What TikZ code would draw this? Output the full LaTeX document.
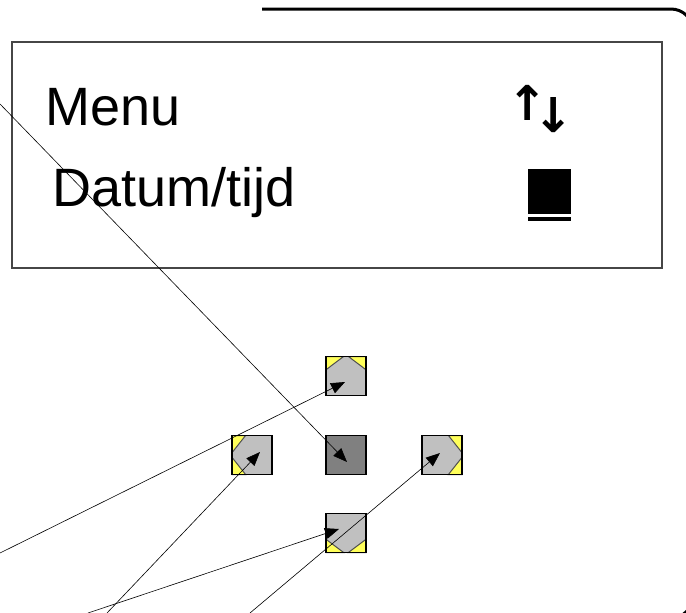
\documentclass[tikz,border=0pt]{standalone}
\usepackage{fontspec}
\setmainfont{Liberation Sans}
\newfontfamily\symfont{DejaVu Sans}
\usetikzlibrary{arrows.meta, calc, positioning}
\definecolor{padgray}{RGB}{192,192,192}
\definecolor{paddark}{RGB}{128,128,128}
\definecolor{padyellow}{RGB}{255,255,90}
\definecolor{chevron}{RGB}{80,80,80}
\definecolor{lcdgray}{RGB}{70,70,70}
\tikzset{
  pad/.style={draw=black, line width=1.3pt, fill=padgray, minimum width=40pt, minimum height=39pt, inner sep=0pt, outer sep=0pt},
  padcorner/.style={fill=padyellow, draw=chevron, line width=1pt},
  lcdtext/.style={anchor=base west, inner sep=0pt, font=\fontsize{54}{60}\selectfont},
  lcdsym/.style={inner sep=0pt, font=\symfont\bfseries\fontsize{48}{48}\selectfont},
  pointer/.style={-{Triangle[length=14pt, width=11pt]}, line width=0.6pt}
}

\begin{document}
\begin{tikzpicture}[x=1pt, y=-1pt]
\useasboundingbox (0,0) rectangle (686,613);
\clip (0,0) rectangle (686,613);
\draw[line width=3pt, rounded corners=22pt] (262,9) -- (693,9) -- (693,618) -- (600,618);
\node[draw=lcdgray, line width=2pt, minimum width=650pt, minimum height=226pt] (lcd) at (337,155) {};
\node[lcdtext] (menu) at (45,125) {Menu};
\node[lcdtext] (datum) at (52,206) {Datum/tijd};
\node[lcdsym] (arrow up) at (527.5,103) {\makebox[22pt]{↑}};
\node[lcdsym] (arrow down) at (553.5,115) {\makebox[22pt]{↓}};
\node[fill=black, minimum width=43pt, minimum height=45pt, inner sep=0pt] (cursor) at (549.5,191.5) {};
\node[fill=black, minimum width=43pt, minimum height=4pt, inner sep=0pt, below=3pt of cursor] (cursor bar) {};

\node[pad] (up) at (346,376) {};
\node[pad] (left) at (252,455) {};
\node[pad, fill=paddark] (ok) at (346,455) {};
\node[pad] (right) at (442,455) {};
\node[pad] (down) at (346,533) {};
\foreach \p/\k/\m/\n in {up/north west/north east/south west, up/north east/north west/south east,
    down/south west/south east/north west, down/south east/south west/north east,
    left/north west/south west/north east, left/south west/north west/south east,
    right/north east/south east/north west, right/south east/north east/south west}
  \filldraw[padcorner] (\p.\k) -- ($(\p.\k)!.44!(\p.\m)$) -- ($(\p.\k)!.34!(\p.\n)$) -- cycle;
\foreach \p in {up, left, right, down}
  \draw[line width=1.3pt] (\p.north west) rectangle (\p.south east);

\coordinate (tip up) at ([shift={(-1,6)}]up.center);
\coordinate (tip ok) at ([shift={(1,7)}]ok.center);
\coordinate (tip left) at ([shift={(8,-3)}]left.center);
\coordinate (tip down) at ([shift={(-7,-4)}]down.center);
\coordinate (tip right) at ([shift={(-2,-2)}]right.center);
\coordinate (from ok) at (0,104);
\coordinate (from up) at (0,553);
\coordinate (from left) at (107,613);
\coordinate (from down) at (88,613);
\coordinate (from right) at (250,613);

\draw[pointer] (from ok) -- (tip ok);
\draw[pointer] (from up) -- (tip up);
\draw[pointer] (from left) -- (tip left);
\draw[pointer] (from down) -- (tip down);
\draw[pointer] (from right) -- (tip right);
\end{tikzpicture}
\end{document}
